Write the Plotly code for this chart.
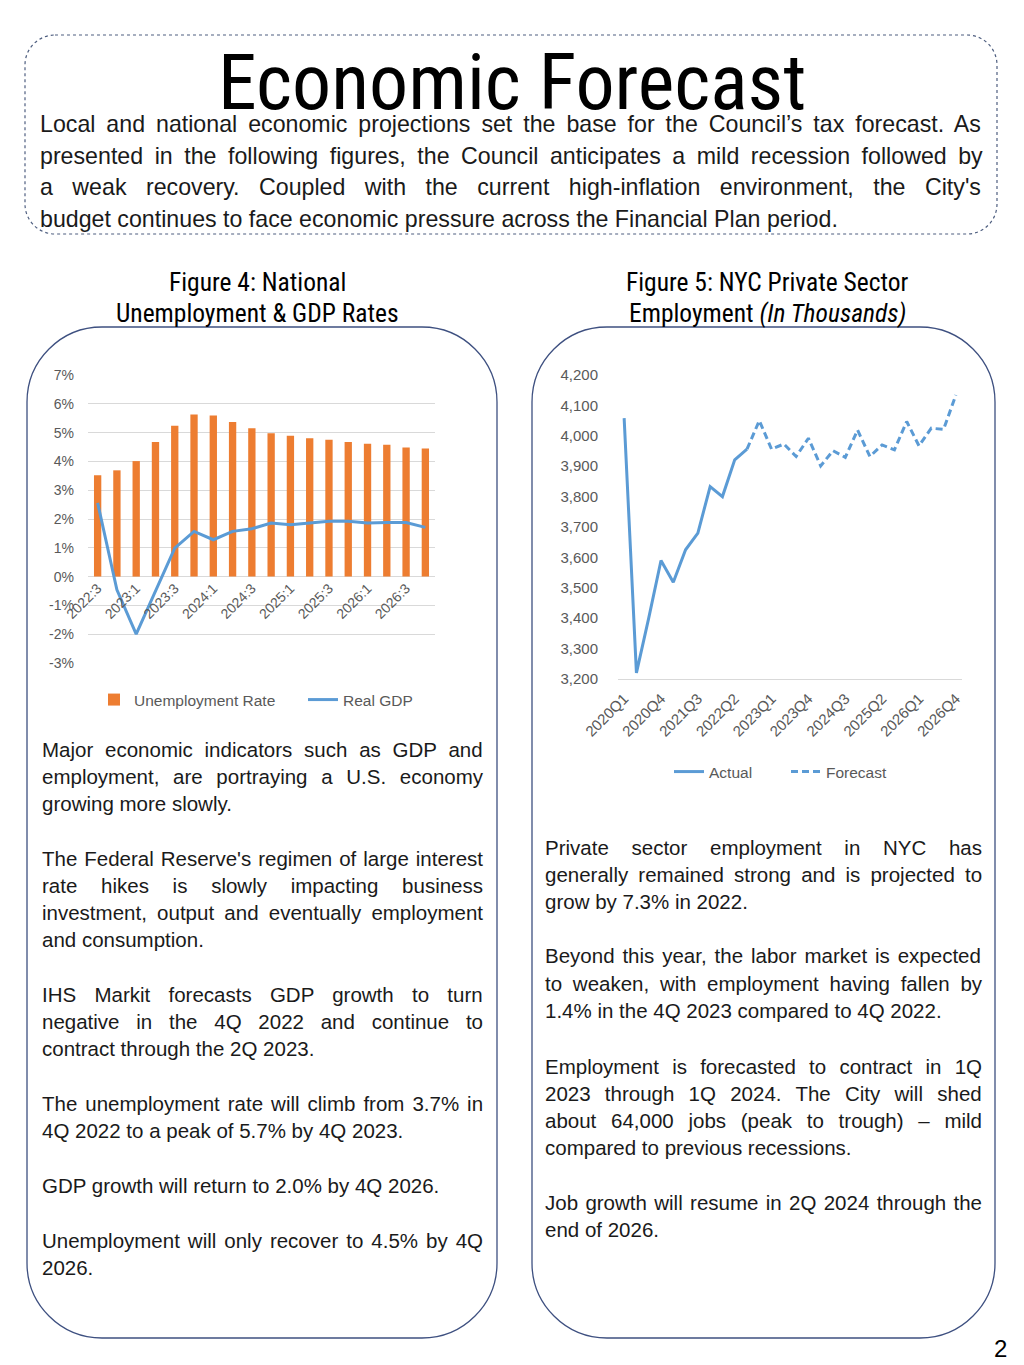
import plotly.graph_objects as go

W, H = 1024, 1365

# ---------------- data ----------------
fig4_quarters = ["2022:3", "2022:4", "2023:1", "2023:2", "2023:3", "2023:4",
                 "2024:1", "2024:2", "2024:3", "2024:4", "2025:1", "2025:2",
                 "2025:3", "2025:4", "2026:1", "2026:2", "2026:3", "2026:4"]
unemployment_rate = [3.52, 3.69, 4.01, 4.67, 5.24, 5.63, 5.59, 5.37, 5.15,
                     4.98, 4.89, 4.80, 4.75, 4.67, 4.61, 4.58, 4.48, 4.45]
real_gdp = [2.56, -0.46, -2.00, -0.50, 0.99, 1.57, 1.28, 1.57, 1.66,
            1.86, 1.80, 1.86, 1.92, 1.92, 1.86, 1.88, 1.88, 1.71]
fig4_tick_labels = ["2022:3", "2023:1", "2023:3", "2024:1", "2024:3",
                    "2025:1", "2025:3", "2026:1", "2026:3"]
fig4_y_ticks = [-3, -2, -1, 0, 1, 2, 3, 4, 5, 6, 7]
fig4_y_tick_labels = ["-3%", "-2%", "-1%", "0%", "1%", "2%", "3%", "4%", "5%", "6%", "7%"]

fig5_quarters = ["2020Q1", "2020Q2", "2020Q3", "2020Q4", "2021Q1", "2021Q2", "2021Q3",
                 "2021Q4", "2022Q1", "2022Q2", "2022Q3", "2022Q4", "2023Q1", "2023Q2",
                 "2023Q3", "2023Q4", "2024Q1", "2024Q2", "2024Q3", "2024Q4", "2025Q1",
                 "2025Q2", "2025Q3", "2025Q4", "2026Q1", "2026Q2", "2026Q3", "2026Q4"]
actual_quarters = fig5_quarters[:11]
actual_employment = [4058, 3220, 3400, 3590, 3518, 3625, 3680, 3833, 3800, 3921, 3956]
forecast_quarters = fig5_quarters[10:]
forecast_employment = [3956, 4050, 3956, 3973, 3932, 3992, 3901, 3951, 3929,
                       4019, 3932, 3970, 3954, 4047, 3967, 4025, 4021, 4134]
fig5_tick_labels = ["2020Q1", "2020Q4", "2021Q3", "2022Q2", "2023Q1",
                    "2023Q4", "2024Q3", "2025Q2", "2026Q1", "2026Q4"]

page_title = "Economic Forecast"
intro_lines = [
    "Local and national economic projections set the base for the Council\u2019s tax forecast. As",
    "presented in the following figures, the Council anticipates a mild recession followed by",
    "a weak recovery. Coupled with the current high-inflation environment, the City's",
    "budget continues to face economic pressure across the Financial Plan period.",
]
fig4_title_lines = ["Figure 4: National", "Unemployment & GDP Rates"]
fig5_title_lines = ["Figure 5: NYC Private Sector", "Employment <i>(In Thousands)</i>"]

left_paragraphs = [
    ["Major economic indicators such as GDP and",
     "employment, are portraying a U.S. economy",
     "growing more slowly."],
    ["The Federal Reserve's regimen of large interest",
     "rate hikes is slowly impacting business",
     "investment, output and eventually employment",
     "and consumption."],
    ["IHS Markit forecasts GDP growth to turn",
     "negative in the 4Q 2022 and continue to",
     "contract through the 2Q 2023."],
    ["The unemployment rate will climb from 3.7% in",
     "4Q 2022 to a peak of 5.7% by 4Q 2023."],
    ["GDP growth will return to 2.0% by 4Q 2026."],
    ["Unemployment will only recover to 4.5% by 4Q",
     "2026."],
]
right_paragraphs = [
    ["Private sector employment in NYC has",
     "generally remained strong and is projected to",
     "grow by 7.3% in 2022."],
    ["Beyond this year, the labor market is expected",
     "to weaken, with employment having fallen by",
     "1.4% in the 4Q 2023 compared to 4Q 2022."],
    ["Employment is forecasted to contract in 1Q",
     "2023 through 1Q 2024. The City will shed",
     "about 64,000 jobs (peak to trough) \u2013 mild",
     "compared to previous recessions."],
    ["Job growth will resume in 2Q 2024 through the",
     "end of 2026."],
]
page_number = "2"

# ---------------- styling helpers ----------------
ORANGE = "#ED7D31"
BLUE = "#5B9BD5"
GRAY_TXT = "#595959"
GRID = "#D9D9D9"
BODY = "Liberation Sans, Arial, sans-serif"
NARROW = "Roboto Condensed, Liberation Sans Narrow, Arial Narrow, DejaVu Sans Condensed, Liberation Sans, sans-serif"
TXT = "#1a1a1a"

ARIAL = {' ': 278, '!': 278, '"': 355, '#': 556, '$': 556, '%': 889, '&': 667, "'": 191,
         '(': 333, ')': 333, '*': 389, '+': 584, ',': 278, '-': 333, '.': 278, '/': 278,
         ':': 278, ';': 278, '?': 556,
         'A': 667, 'B': 667, 'C': 722, 'D': 722, 'E': 667, 'F': 611, 'G': 778, 'H': 722,
         'I': 278, 'J': 500, 'K': 667, 'L': 556, 'M': 833, 'N': 722, 'O': 778, 'P': 667,
         'Q': 778, 'R': 722, 'S': 667, 'T': 611, 'U': 722, 'V': 667, 'W': 944, 'X': 667,
         'Y': 667, 'Z': 611,
         'a': 556, 'b': 556, 'c': 500, 'd': 556, 'e': 556, 'f': 278, 'g': 556, 'h': 556,
         'i': 222, 'j': 222, 'k': 500, 'l': 222, 'm': 833, 'n': 556, 'o': 556, 'p': 556,
         'q': 556, 'r': 333, 's': 500, 't': 278, 'u': 556, 'v': 500, 'w': 722, 'x': 500,
         'y': 500, 'z': 500, '\u2019': 222, '\u2013': 556}
for d in "0123456789":
    ARIAL[d] = 556


def text_width(s, size):
    return sum(ARIAL.get(c, 556) for c in s) * size / 1000.0


def justified(line, size, width):
    n = line.count(' ')
    if n == 0:
        return line
    ws = (width - text_width(line, size)) / n
    return "<span style='word-spacing:%.2fpx'>%s</span>" % (ws, line)


def px(x):
    return x / W


def py(y):
    return 1 - y / H


annotations = []


def add_text(x, y, text, size, family=BODY, color=TXT, xanchor='left', yanchor='middle'):
    annotations.append(dict(x=px(x), y=py(y), xref='paper', yref='paper', text=text,
                            showarrow=False, xanchor=xanchor, yanchor=yanchor,
                            font=dict(size=size, family=family, color=color),
                            align='left'))


def rrect(x0, y0, x1, y1, r):
    k = 0.5523 * r
    pts = [
        ("M", [(x0 + r, y0)]),
        ("L", [(x1 - r, y0)]),
        ("C", [(x1 - r + k, y0), (x1, y0 + r - k), (x1, y0 + r)]),
        ("L", [(x1, y1 - r)]),
        ("C", [(x1, y1 - r + k), (x1 - r + k, y1), (x1 - r, y1)]),
        ("L", [(x0 + r, y1)]),
        ("C", [(x0 + r - k, y1), (x0, y1 - r + k), (x0, y1 - r)]),
        ("L", [(x0, y0 + r)]),
        ("C", [(x0, y0 + r - k), (x0 + r - k, y0), (x0 + r, y0)]),
    ]
    out = []
    for cmd, ps in pts:
        out.append(cmd + " ".join("%.5f,%.5f" % (px(a), py(b)) for a, b in ps))
    return " ".join(out) + " Z"


# ---------------- figure ----------------
fig = go.Figure()

fig.add_trace(go.Bar(x=fig4_quarters, y=unemployment_rate, name="Unemployment Rate",
                     marker=dict(color=ORANGE, line=dict(width=0)),
                     xaxis='x', yaxis='y', legend='legend'))
fig.add_trace(go.Scatter(x=fig4_quarters, y=real_gdp, name="Real GDP", mode='lines',
                         line=dict(color=BLUE, width=3), xaxis='x', yaxis='y',
                         legend='legend'))
fig.add_trace(go.Scatter(x=actual_quarters, y=actual_employment, name="Actual", mode='lines',
                         line=dict(color=BLUE, width=3), xaxis='x2', yaxis='y2',
                         legend='legend2'))
fig.add_trace(go.Scatter(x=forecast_quarters, y=forecast_employment, name="Forecast",
                         mode='lines', line=dict(color=BLUE, width=3, dash='7px,4px'),
                         xaxis='x2', yaxis='y2', legend='legend2'))

# figure 4 axes
y4_dom = [py(663), py(375)]
y4_rng = [-3, 7]
zero_pos = y4_dom[0] + (0 - y4_rng[0]) / (y4_rng[1] - y4_rng[0]) * (y4_dom[1] - y4_dom[0])
tickfont4 = dict(size=14, color=GRAY_TXT, family=BODY)
tickfont5 = dict(size=15, color=GRAY_TXT, family=BODY)

layout_axes = dict(
    xaxis=dict(domain=[px(88), px(435)], type='category', anchor='free', position=zero_pos,
               range=[-0.5, len(fig4_quarters) - 0.5], tickmode='array',
               tickvals=fig4_tick_labels, ticktext=fig4_tick_labels, tickangle=-45,
               tickfont=tickfont4, showgrid=False, showline=False, zeroline=False,
               ticks='', automargin=False, fixedrange=True),
    yaxis=dict(domain=y4_dom, range=y4_rng, tickmode='array', tickvals=fig4_y_ticks,
               ticktext=fig4_y_tick_labels, tickfont=tickfont4,
               showgrid=True, gridcolor=GRID, gridwidth=1, zeroline=False, showline=False,
               ticks='', ticklabelstandoff=13, anchor='x', automargin=False, fixedrange=True),
    xaxis2=dict(domain=[px(618), px(962)], type='category', anchor='y2',
                range=[-0.5, len(fig5_quarters) - 0.5], tickmode='array',
                tickvals=fig5_tick_labels, ticktext=fig5_tick_labels, tickangle=-45,
                tickfont=tickfont5, showgrid=False, showline=True, linecolor=GRID,
                linewidth=1, zeroline=False, ticks='', ticklabelstandoff=4,
                automargin=False, fixedrange=True),
    yaxis2=dict(domain=[py(679), py(375)], range=[3200, 4200], dtick=100, tickformat=',',
                tickfont=tickfont5, showgrid=False, zeroline=False, showline=False,
                ticks='', ticklabelstandoff=19, anchor='x2', automargin=False,
                fixedrange=True),
)

# ---------------- texts ----------------
add_text(512, 82, page_title, 78, family=NARROW, color='#000000', xanchor='center')

INTRO_SIZE = 23.2
for i, line in enumerate(intro_lines):
    t = line if i == len(intro_lines) - 1 else justified(line, INTRO_SIZE, 943)
    add_text(38, 124 + i * 31.7, t, INTRO_SIZE)

HEAD = 25.5
add_text(257, 282, fig4_title_lines[0], HEAD, family=NARROW, color='#000000', xanchor='center')
add_text(257, 313, fig4_title_lines[1], HEAD, family=NARROW, color='#000000', xanchor='center')
add_text(767, 282, fig5_title_lines[0], HEAD, family=NARROW, color='#000000', xanchor='center')
add_text(767, 313, fig5_title_lines[1], HEAD, family=NARROW, color='#000000', xanchor='center')

COL_SIZE = 20.5
LINE = 27.2
left_starts = [749, 858, 994, 1103, 1185, 1240]
for para, y0 in zip(left_paragraphs, left_starts):
    for i, line in enumerate(para):
        t = line if i == len(para) - 1 else justified(line, COL_SIZE, 441)
        add_text(40, y0 + i * LINE, t, COL_SIZE)

right_starts = [847, 956, 1066, 1202]
for para, y0 in zip(right_paragraphs, right_starts):
    for i, line in enumerate(para):
        t = line if i == len(para) - 1 else justified(line, COL_SIZE, 437)
        add_text(543, y0 + i * LINE, t, COL_SIZE)

add_text(1000, 1348, page_number, 24, xanchor='center', color='#000000')

# ---------------- boxes ----------------
shapes = [
    dict(type='path', path=rrect(25, 35, 997, 234, 30), xref='paper', yref='paper',
         line=dict(color='#4F5F80', width=1.2, dash='dot'), layer='below'),
    dict(type='path', path=rrect(27, 327, 497, 1338, 75), xref='paper', yref='paper',
         line=dict(color='#3E5080', width=1.3), layer='below'),
    dict(type='path', path=rrect(532, 327, 995, 1338, 75), xref='paper', yref='paper',
         line=dict(color='#3E5080', width=1.3), layer='below'),
]

legend_font = dict(size=15.5, color=GRAY_TXT, family=BODY)
fig.update_layout(
    width=W, height=H, autosize=False,
    margin=dict(l=0, r=0, t=0, b=0),
    paper_bgcolor='white', plot_bgcolor='rgba(0,0,0,0)',
    bargap=0.62,
    showlegend=True,
    legend=dict(orientation='h', x=px(94), y=py(700), xanchor='left', yanchor='middle',
                font=legend_font, bgcolor='rgba(0,0,0,0)', itemwidth=30,
                entrywidth=164, traceorder='normal'),
    legend2=dict(orientation='h', x=px(669), y=py(772), xanchor='left', yanchor='middle',
                 font=legend_font, bgcolor='rgba(0,0,0,0)', itemwidth=30,
                 entrywidth=72, traceorder='normal'),
    annotations=annotations,
    shapes=shapes,
    **layout_axes,
)

fig.write_html("out.html", config={'displayModeBar': False},
               post_script="document.body.style.margin='0';document.body.style.overflow='hidden';")
